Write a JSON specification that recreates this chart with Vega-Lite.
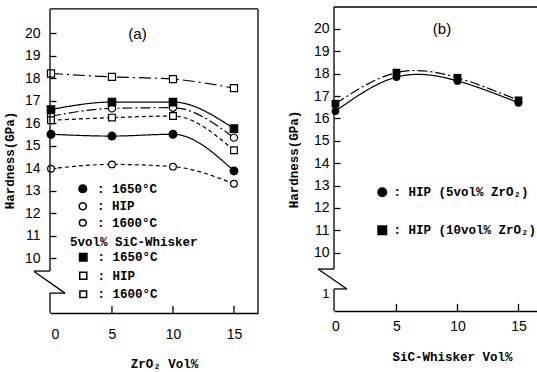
{
  "$schema": "https://vega.github.io/schema/vega-lite/v6.json",
  "background": "white",
  "padding": {"left": 3, "top": 6, "right": 0, "bottom": 0},
  "config": {
    "view": {"stroke": null},
    "concat": {"spacing": 28},
    "axis": {
      "grid": false, "labelOverlap": false,
      "domainColor": "black", "domainWidth": 1.3,
      "tickColor": "black", "tickWidth": 1.3,
      "labelColor": "black", "labelFont": "Liberation Sans", "labelFontSize": 14,
      "titleColor": "black", "titleFont": "Liberation Mono", "titleFontWeight": "bold", "titleFontSize": 12.5
    },
    "legend": {
      "labelFont": "Liberation Mono", "labelFontWeight": "bold", "labelFontSize": 12.5, "labelColor": "black",
      "titleFont": "Liberation Mono", "titleFontWeight": "bold", "titleFontSize": 12.5, "titleColor": "black",
      "padding": 0
    }
  },
  "resolve": {"scale": {"shape": "independent", "fill": "independent", "size": "independent", "strokeDash": "independent"}},
  "datasets": {
    "a": [
      {"x": 0, "h": 15.5, "s": "c1650", "g": "c", "cond": "1650°C"},
      {"x": 5, "h": 15.42, "s": "c1650", "g": "c", "cond": "1650°C"},
      {"x": 10, "h": 15.5, "s": "c1650", "g": "c", "cond": "1650°C"},
      {"x": 15, "h": 13.87, "s": "c1650", "g": "c", "cond": "1650°C"},
      {"x": 0, "h": 16.3, "s": "cHIP", "g": "c", "cond": "HIP"},
      {"x": 5, "h": 16.65, "s": "cHIP", "g": "c", "cond": "HIP"},
      {"x": 10, "h": 16.68, "s": "cHIP", "g": "c", "cond": "HIP"},
      {"x": 15, "h": 15.35, "s": "cHIP", "g": "c", "cond": "HIP"},
      {"x": 0, "h": 13.97, "s": "c1600", "g": "c", "cond": "1600°C"},
      {"x": 5, "h": 14.16, "s": "c1600", "g": "c", "cond": "1600°C"},
      {"x": 10, "h": 14.06, "s": "c1600", "g": "c", "cond": "1600°C"},
      {"x": 15, "h": 13.3, "s": "c1600", "g": "c", "cond": "1600°C"},
      {"x": 0, "h": 16.6, "s": "s1650", "g": "s", "cond": "1650°C"},
      {"x": 5, "h": 16.93, "s": "s1650", "g": "s", "cond": "1650°C"},
      {"x": 10, "h": 16.93, "s": "s1650", "g": "s", "cond": "1650°C"},
      {"x": 15, "h": 15.75, "s": "s1650", "g": "s", "cond": "1650°C"},
      {"x": 0, "h": 18.2, "s": "sHIP", "g": "s", "cond": "HIP"},
      {"x": 5, "h": 18.05, "s": "sHIP", "g": "s", "cond": "HIP"},
      {"x": 10, "h": 17.95, "s": "sHIP", "g": "s", "cond": "HIP"},
      {"x": 15, "h": 17.55, "s": "sHIP", "g": "s", "cond": "HIP"},
      {"x": 0, "h": 16.12, "s": "s1600", "g": "s", "cond": "1600°C"},
      {"x": 5, "h": 16.24, "s": "s1600", "g": "s", "cond": "1600°C"},
      {"x": 10, "h": 16.31, "s": "s1600", "g": "s", "cond": "1600°C"},
      {"x": 15, "h": 14.79, "s": "s1600", "g": "s", "cond": "1600°C"}
    ],
    "b": [
      {"x": 0, "h": 16.33, "mix": "HIP (5vol% ZrO₂)"},
      {"x": 5, "h": 17.85, "mix": "HIP (5vol% ZrO₂)"},
      {"x": 10, "h": 17.68, "mix": "HIP (5vol% ZrO₂)"},
      {"x": 15, "h": 16.7, "mix": "HIP (5vol% ZrO₂)"},
      {"x": 0, "h": 16.66, "mix": "HIP (10vol% ZrO₂)"},
      {"x": 5, "h": 18.05, "mix": "HIP (10vol% ZrO₂)"},
      {"x": 10, "h": 17.82, "mix": "HIP (10vol% ZrO₂)"},
      {"x": 15, "h": 16.81, "mix": "HIP (10vol% ZrO₂)"}
    ]
  },
  "hconcat": [
    {
      "width": 208,
      "height": 306,
      "data": {"name": "a"},
      "resolve": {"axis": {"x": "independent", "y": "independent"}},
      "layer": [
        {
          "resolve": {"scale": {"shape": "independent", "fill": "independent", "size": "independent"}},
          "encoding": {
            "x": {"field": "x", "type": "quantitative", "title": "ZrO₂ Vol%",
              "scale": {"domain": [-0.08, 16.97], "nice": false, "zero": false},
              "axis": {"values": [0, 5, 10, 15], "format": "d", "labelOverlap": false, "ticks": false, "labelPadding": 14, "titleX": 114, "titleY": 50, "titleBaseline": "middle"}},
            "y": {"field": "h", "type": "quantitative", "title": "Hardness(GPa)",
              "scale": {"domain": [7.556, 21.156], "nice": false, "zero": false},
              "axis": {"values": [10, 11, 12, 13, 14, 15, 16, 17, 18, 19, 20], "format": "d", "labelOverlap": false, "domain": false, "tickSize": -6, "labelPadding": 16, "titleX": -41, "titleBaseline": "middle"}}
          },
          "layer": [
            {
              "mark": {"type": "line", "interpolate": "monotone", "strokeWidth": 1.2, "color": "black"},
              "encoding": {
                "detail": {"field": "s"},
                "strokeDash": {"field": "s", "type": "nominal", "legend": null,
                  "scale": {"domain": ["c1650", "cHIP", "c1600", "s1650", "sHIP", "s1600"],
                    "range": [[1, 0], [10, 3, 2, 3], [4, 3], [1, 0], [12, 4, 2, 4], [4, 3]]}}
              }
            },
            {
              "transform": [{"filter": "datum.g == 'c'"}],
              "mark": {"type": "point", "filled": true, "stroke": "black", "strokeWidth": 1.2, "opacity": 1},
              "encoding": {
                "shape": {"field": "cond", "type": "nominal", "title": null,
                  "scale": {"domain": ["1650°C", "HIP", "1600°C"], "range": ["circle", "circle", "circle"]},
                  "legend": {"orient": "none", "legendX": 26.5, "legendY": 175.5, "title": null, "labelExpr": "': ' + datum.label", "rowPadding": 2.5, "labelOffset": 8,
                    "encode": {"symbols": {"update": {"stroke": {"value": "black"}, "strokeWidth": {"value": 1.2}}}}}},
                "fill": {"field": "cond", "type": "nominal", "title": null,
                  "scale": {"domain": ["1650°C", "HIP", "1600°C"], "range": ["black", "white", "white"]}},
                "size": {"field": "cond", "type": "ordinal", "title": null,
                  "scale": {"domain": ["1650°C", "HIP", "1600°C"], "range": [60, 45, 28]}}
              }
            },
            {
              "transform": [{"filter": "datum.g == 's'"}],
              "mark": {"type": "point", "filled": true, "stroke": "black", "strokeWidth": 1.2, "opacity": 1},
              "encoding": {
                "shape": {"field": "cond", "type": "nominal", "title": "5vol% SiC-Whisker",
                  "scale": {"domain": ["1650°C", "HIP", "1600°C"], "range": ["square", "square", "square"]},
                  "legend": {"orient": "none", "legendX": 20, "legendY": 228.5, "labelExpr": "': ' + datum.label", "rowPadding": 4.5, "titlePadding": 3, "labelOffset": 8, "symbolOffset": 7,
                    "encode": {"symbols": {"update": {"stroke": {"value": "black"}, "strokeWidth": {"value": 1.2}}}}}},
                "fill": {"field": "cond", "type": "nominal", "title": "5vol% SiC-Whisker",
                  "scale": {"domain": ["1650°C", "HIP", "1600°C"], "range": ["black", "white", "white"]}},
                "size": {"field": "cond", "type": "ordinal", "title": "5vol% SiC-Whisker",
                  "scale": {"domain": ["1650°C", "HIP", "1600°C"], "range": [55, 45, 40]}}
              }
            }
          ]
        },
        {
          "data": {"values": [{}]},
          "layer": [
            {"mark": {"type": "rule", "color": "black", "strokeWidth": 1.3},
             "encoding": {"x": {"datum": -0.08, "axis": null}, "x2": {"datum": 16.97}, "y": {"datum": 21.07, "axis": null}}},
            {"mark": {"type": "rule", "color": "black", "strokeWidth": 1.3},
             "encoding": {"x": {"datum": 16.97, "axis": null}, "y": {"datum": 21.07, "axis": null}, "y2": {"datum": 7.556}}},
            {"mark": {"type": "rule", "color": "black", "strokeWidth": 1.3},
             "encoding": {"x": {"datum": -0.08, "axis": null}, "y": {"datum": 21.07, "axis": null}, "y2": {"datum": 9.42}}},
            {"mark": {"type": "rule", "color": "black", "strokeWidth": 1.3},
             "encoding": {"x": {"datum": -0.08, "axis": null}, "x2": {"datum": -1.39}, "y": {"datum": 9.42, "axis": null}}},
            {"mark": {"type": "rule", "color": "black", "strokeWidth": 1.3},
             "encoding": {"x": {"datum": -1.39, "axis": null}, "x2": {"datum": 1.15}, "y": {"datum": 9.40, "axis": null}, "y2": {"datum": 8.44}}},
            {"mark": {"type": "rule", "color": "black", "strokeWidth": 1.3},
             "encoding": {"x": {"datum": 1.15, "axis": null}, "x2": {"datum": -0.08}, "y": {"datum": 8.44, "axis": null}}},
            {"mark": {"type": "rule", "color": "black", "strokeWidth": 1.3},
             "encoding": {"x": {"datum": -0.08, "axis": null}, "y": {"datum": 8.44, "axis": null}, "y2": {"datum": 7.556}}},
            {"mark": {"type": "rule", "color": "black", "strokeWidth": 1.3},
             "encoding": {"x": {"datum": 5, "axis": null}, "y": {"datum": 7.556, "axis": null}, "y2": {"datum": 7.87}}},
            {"mark": {"type": "rule", "color": "black", "strokeWidth": 1.3},
             "encoding": {"x": {"datum": 10, "axis": null}, "y": {"datum": 7.556, "axis": null}, "y2": {"datum": 7.87}}},
            {"mark": {"type": "rule", "color": "black", "strokeWidth": 1.3},
             "encoding": {"x": {"datum": 15, "axis": null}, "y": {"datum": 7.556, "axis": null}, "y2": {"datum": 7.87}}},
            {"mark": {"type": "text", "text": "(a)", "font": "Liberation Sans", "fontSize": 15, "color": "black"},
             "encoding": {"x": {"datum": 7.09, "axis": null}, "y": {"datum": 19.96, "axis": null}}}
          ]
        }
      ]
    },
    {
      "width": 205,
      "height": 304,
      "data": {"name": "b"},
      "resolve": {"axis": {"x": "independent", "y": "independent"}},
      "layer": [
        {
          "encoding": {
            "x": {"field": "x", "type": "quantitative", "title": "SiC-Whisker Vol%",
              "scale": {"domain": [-0.12, 16.68], "nice": false, "zero": false},
              "axis": {"values": [0, 5, 10, 15], "format": "d", "labelOverlap": false, "ticks": false, "labelPadding": 8, "titleX": 118, "titleY": 45, "titleBaseline": "middle"}},
            "y": {"field": "h", "type": "quantitative", "title": "Hardness(GPa)",
              "scale": {"domain": [7.394, 20.983], "nice": false, "zero": false},
              "axis": {"values": [10, 11, 12, 13, 14, 15, 16, 17, 18, 19, 20], "format": "d", "labelOverlap": false, "domain": false, "tickSize": -6, "labelPadding": 11, "titleX": -41, "titleBaseline": "middle"}}
          },
          "layer": [
            {
              "mark": {"type": "line", "interpolate": "natural", "strokeWidth": 1.2, "color": "black"},
              "encoding": {
                "detail": {"field": "mix"},
                "strokeDash": {"field": "mix", "type": "nominal", "legend": null,
                  "scale": {"domain": ["HIP (10vol% ZrO₂)", "HIP (5vol% ZrO₂)"], "range": [[10, 3, 2, 3], [1, 0]]}}
              }
            },
            {
              "mark": {"type": "point", "filled": true, "color": "black", "opacity": 1, "size": 60},
              "encoding": {
                "shape": {"field": "mix", "type": "nominal", "title": null,
                  "scale": {"domain": ["HIP (5vol% ZrO₂)", "HIP (10vol% ZrO₂)"], "range": ["circle", "square"]},
                  "legend": {"orient": "none", "legendX": 42, "legendY": 179, "title": null, "labelExpr": "': ' + datum.label", "rowPadding": 21, "labelOffset": 5, "symbolFillColor": "black"}}
              }
            }
          ]
        },
        {
          "data": {"values": [{}]},
          "layer": [
            {"mark": {"type": "rule", "color": "black", "strokeWidth": 1.3},
             "encoding": {"x": {"datum": -0.12, "axis": null}, "x2": {"datum": 16.68}, "y": {"datum": 20.983, "axis": null}}},
            {"mark": {"type": "rule", "color": "black", "strokeWidth": 1.3},
             "encoding": {"x": {"datum": -0.12, "axis": null}, "y": {"datum": 20.983, "axis": null}, "y2": {"datum": 9.27}}},
            {"mark": {"type": "rule", "color": "black", "strokeWidth": 1.3},
             "encoding": {"x": {"datum": -0.12, "axis": null}, "x2": {"datum": -1.43}, "y": {"datum": 9.27, "axis": null}}},
            {"mark": {"type": "rule", "color": "black", "strokeWidth": 1.3},
             "encoding": {"x": {"datum": -1.43, "axis": null}, "x2": {"datum": 0.94}, "y": {"datum": 9.27, "axis": null}, "y2": {"datum": 8.38}}},
            {"mark": {"type": "rule", "color": "black", "strokeWidth": 1.3},
             "encoding": {"x": {"datum": 0.94, "axis": null}, "x2": {"datum": -0.12}, "y": {"datum": 8.38, "axis": null}}},
            {"mark": {"type": "rule", "color": "black", "strokeWidth": 1.3},
             "encoding": {"x": {"datum": -0.12, "axis": null}, "y": {"datum": 8.38, "axis": null}, "y2": {"datum": 7.394}}},
            {"mark": {"type": "rule", "color": "black", "strokeWidth": 1.3},
             "encoding": {"x": {"datum": 5, "axis": null}, "y": {"datum": 7.394, "axis": null}, "y2": {"datum": 7.71}}},
            {"mark": {"type": "rule", "color": "black", "strokeWidth": 1.3},
             "encoding": {"x": {"datum": 10, "axis": null}, "y": {"datum": 7.394, "axis": null}, "y2": {"datum": 7.71}}},
            {"mark": {"type": "rule", "color": "black", "strokeWidth": 1.3},
             "encoding": {"x": {"datum": 15, "axis": null}, "y": {"datum": 7.394, "axis": null}, "y2": {"datum": 7.71}}},
            {"mark": {"type": "text", "text": "1", "font": "Liberation Sans", "fontSize": 13, "color": "black"},
             "encoding": {"x": {"datum": -0.78, "axis": null}, "y": {"datum": 8.15, "axis": null}}},
            {"mark": {"type": "text", "text": "(b)", "font": "Liberation Sans", "fontSize": 15, "color": "black"},
             "encoding": {"x": {"datum": 8.73, "axis": null}, "y": {"datum": 20.0, "axis": null}}}
          ]
        }
      ]
    }
  ]
}
